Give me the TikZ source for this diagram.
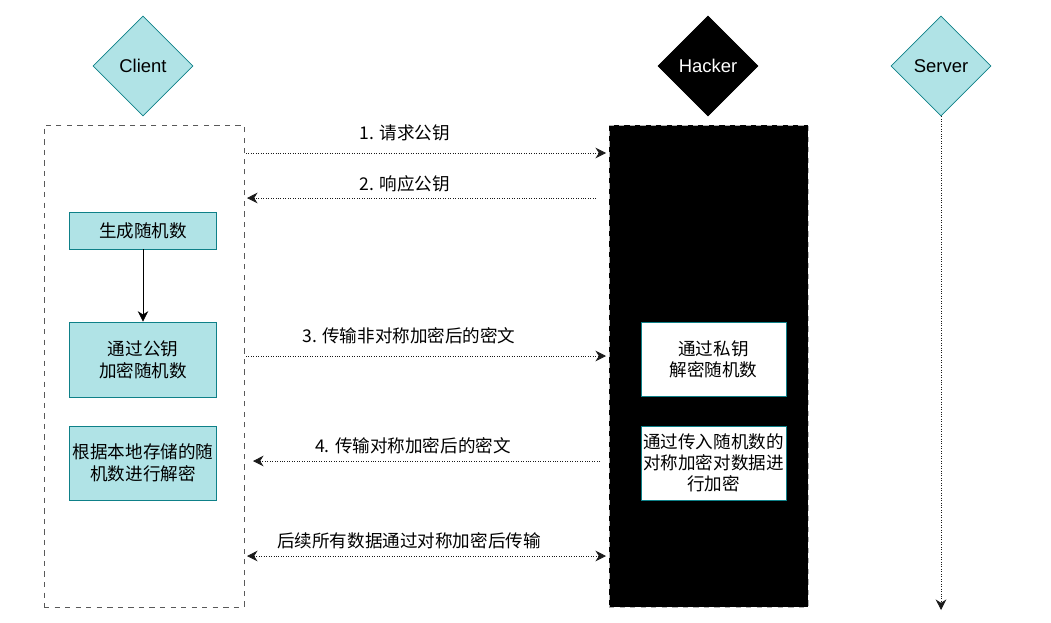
\documentclass[tikz,border=0pt]{standalone}
\usepackage{fontspec}
\setmainfont{Liberation Sans}
\newfontfamily\cjk{Noto Sans CJK SC}
\usepackage{tikz}
\usetikzlibrary{shapes.geometric,arrows.meta,positioning}
\definecolor{roleteal}{HTML}{B0E3E6}
\definecolor{roleedge}{HTML}{0E8088}
\definecolor{msggray} {HTML}{1A1A1A}

\begin{document}
\begin{tikzpicture}[
  x=0.02cm, y=-0.02cm,
  font=\fontsize{10}{12.5}\selectfont, >={Stealth[length=6pt,width=6pt]},
  role/.style={diamond, aspect=1, draw=roleedge, fill=roleteal,
    minimum width=2cm, minimum height=2cm, inner sep=0pt, font=\fontsize{10.5}{12}\selectfont},
  stepbox/.style={draw=roleedge, fill=roleteal, align=center, inner sep=0pt,
    minimum width=2.94cm, font=\cjk\fontsize{10}{12.5}\selectfont},
  hackbox/.style={draw=roleedge, fill=white, align=center, inner sep=0pt,
    minimum width=2.9cm, minimum height=1.48cm, font=\cjk\fontsize{10}{12}\selectfont},
  msg/.style={densely dotted, draw=msggray, thin},
  msglbl/.style={font=\cjk\fontsize{10}{12}\selectfont},
]
\useasboundingbox (0,0) rectangle (1051,622);

% Roles
\node[role] (client) at (143,66) {Client};
\node[role, fill=black, draw=black, text=white] (hacker) at (708,66) {Hacker};
\node[role] (server) at (941,66) {Server};

% Lanes
\node[draw=gray!70!black, dashed, minimum width=4cm, minimum height=9.64cm,
  inner sep=0pt] (clientlane) at (144,366) {};
\node[draw=gray!60, fill=black, dashed, minimum width=3.98cm, minimum height=9.64cm,
  inner sep=0pt] (hackerlane) at (708.5,366) {};
\coordinate (serverend) at (941,610);
\draw[msg, ->] (server.south) -- (serverend);

% Client steps
\node[stepbox, minimum height=0.74cm] (gen)  at (143,230.5) {生成随机数};
\node[stepbox, minimum height=1.5cm]  (enc)  at (143,359.5) {通过公钥\\加密随机数};
\node[stepbox, minimum height=1.48cm] (dec)  at (143,463)   {根据本地存储的随\\机数进行解密};
\draw[->, thin] (gen) -- (enc);

% Hacker steps
\node[hackbox] (hdec) at (713.5,359) {通过私钥\\解密随机数};
\node[hackbox] (henc) at (713.5,463) {通过传入随机数的\\对称加密对数据进\\行加密};

% Message ends
\coordinate (m1a) at (246,153); \coordinate (m1b) at (606,153);
\coordinate (m2a) at (596,198); \coordinate (m2b) at (247,198);
\coordinate (m3a) at (246,356); \coordinate (m3b) at (606,356);
\coordinate (m4a) at (600,461); \coordinate (m4b) at (253,461);
\coordinate (m5a) at (247,556); \coordinate (m5b) at (606,556);

% Messages
\draw[msg, ->] (m1a) -- (m1b);
\node[msglbl] (l1) at (405,133) {1. 请求公钥};
\draw[msg, ->] (m2a) -- (m2b);
\node[msglbl] (l2) at (405,184) {2. 响应公钥};
\draw[msg, ->] (m3a) -- (m3b);
\node[msglbl] (l3) at (409,336) {3. 传输非对称加密后的密文};
\draw[msg, ->] (m4a) -- (m4b);
\node[msglbl] (l4) at (413,446) {4. 传输对称加密后的密文};
\draw[msg, <->] (m5a) -- (m5b);
\node[msglbl] (l5) at (409,541) {后续所有数据通过对称加密后传输};

\end{tikzpicture}
\end{document}
